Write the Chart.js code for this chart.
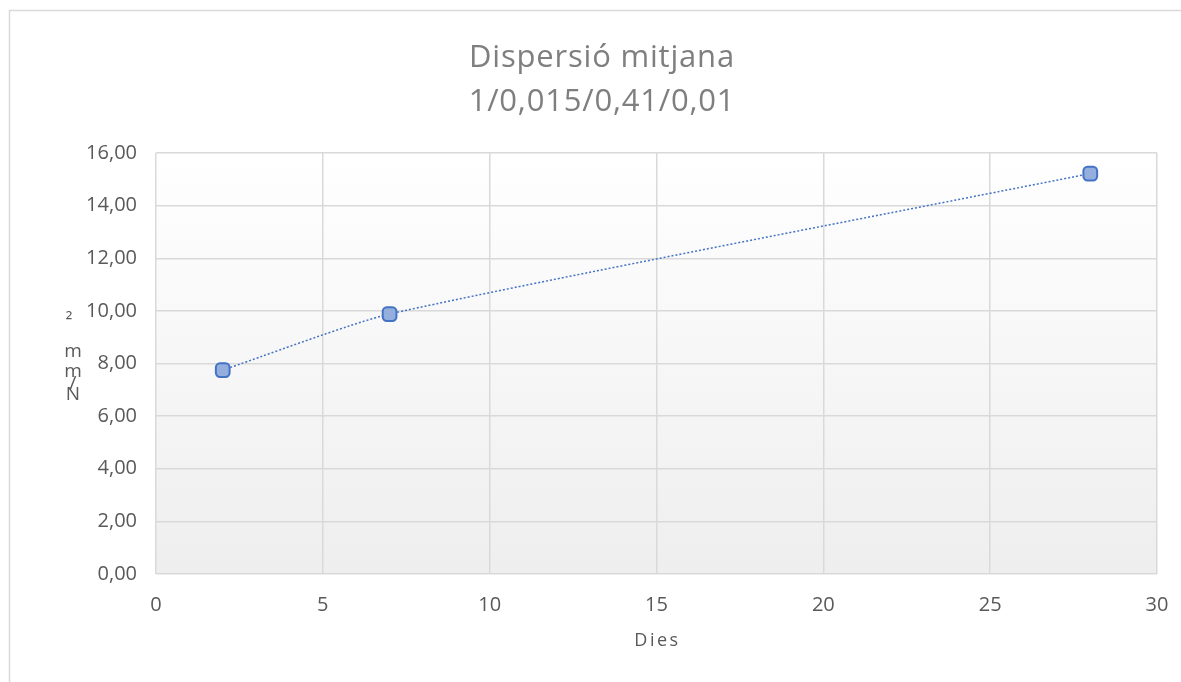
<!DOCTYPE html>
<html>
<head>
<meta charset="utf-8">
<script src="https://cdn.jsdelivr.net/npm/chart.js@4.4.1/dist/chart.umd.min.js"></script>
<style>
  html, body { margin: 0; padding: 0; background: #ffffff; }
  #wrap { width: 1181px; height: 682px; position: relative; }
</style>
</head>
<body>
<div id="wrap"><canvas id="c" width="1181" height="682"></canvas></div>
<script>
// Curing age (days) and mean strength values
const days = [2, 7, 28];
const strength = [7.75, 9.88, 15.22];
const titleLines = ['Dispersió mitjana', '1/0,015/0,41/0,01'];
const xTitle = 'Dies';
const yTitleChars = ['²', 'm', 'm', '/', 'N'];

const FONT = '"Open Sans", "Noto Sans", sans-serif';

// Frame, plot-area shading, the title and the axis titles
const decor = {
  id: 'decor',
  beforeDraw(chart) {
    const { ctx, chartArea: a } = chart;
    ctx.save();
    ctx.strokeStyle = '#d9d9d9';
    ctx.lineWidth = 1.5;
    ctx.strokeRect(9.5, 10.5, 1400, 1000);
    const g = ctx.createLinearGradient(0, a.top, 0, a.bottom);
    g.addColorStop(0, '#ffffff');
    g.addColorStop(1, '#eeeeee');
    ctx.fillStyle = g;
    ctx.fillRect(a.left, a.top, a.right - a.left, a.bottom - a.top);
    ctx.restore();
  },
  afterDraw(chart) {
    const { ctx, chartArea: a } = chart;
    ctx.save();
    ctx.textAlign = 'center';
    ctx.textBaseline = 'middle';
    // two-line title
    ctx.fillStyle = '#7f7f7f';
    ctx.font = '31px ' + FONT;
    ctx.letterSpacing = '0.8px';
    ctx.fillText(titleLines[0], 602, 58);
    ctx.fillText(titleLines[1], 602, 102);
    // x-axis title
    ctx.fillStyle = '#595959';
    ctx.font = '18px ' + FONT;
    ctx.letterSpacing = '2.5px';
    ctx.fillText(xTitle, (a.left + a.right) / 2 + 1, 641);
    // y-axis title, stacked characters
    ctx.letterSpacing = '0px';
    ctx.font = '19px ' + FONT;
    const ys = [322, 352, 372, 384, 395];
    const xs = [69, 73, 73, 73, 73];
    yTitleChars.forEach((ch, i) => ctx.fillText(ch, xs[i], ys[i]));
    ctx.restore();
  }
};

new Chart(document.getElementById('c'), {
  type: 'line',
  data: {
    datasets: [{
      data: days.map((d, i) => ({ x: d, y: strength[i] })),
      borderColor: '#4472c4',
      borderWidth: 1.5,
      borderDash: [2, 2],
      tension: 0.2,
      pointStyle: 'rectRounded',
      pointRadius: 8,
      pointHoverRadius: 8,
      pointBackgroundColor: '#94afde',
      pointBorderColor: '#4472c4',
      pointBorderWidth: 2,
      fill: false
    }]
  },
  plugins: [decor],
  options: {
    responsive: false,
    animation: false,
    events: [],
    layout: { padding: { top: 153, left: 0, right: 24, bottom: 0 } },
    plugins: {
      legend: { display: false },
      tooltip: { enabled: false },
      title: { display: false }
    },
    scales: {
      x: {
        type: 'linear',
        min: 0, max: 30,
        ticks: { stepSize: 5, color: '#595959', font: { family: FONT, size: 20 }, padding: 19 },
        grid: { color: '#d9d9d9', lineWidth: 1.5, drawTicks: false },
        border: { display: false },
        afterFit(s) { s.height = 108; s.paddingLeft = 0; s.paddingRight = 0; }
      },
      y: {
        min: 0, max: 16,
        ticks: {
          stepSize: 2, color: '#595959', font: { family: FONT, size: 20 }, padding: 19,
          callback: v => v.toFixed(2).replace('.', ',')
        },
        grid: { color: '#d9d9d9', lineWidth: 1.5, drawTicks: false },
        border: { display: false },
        afterFit(s) { s.width = 156; s.paddingTop = 0; s.paddingBottom = 0; }
      }
    }
  }
});
</script>
</body>
</html>
